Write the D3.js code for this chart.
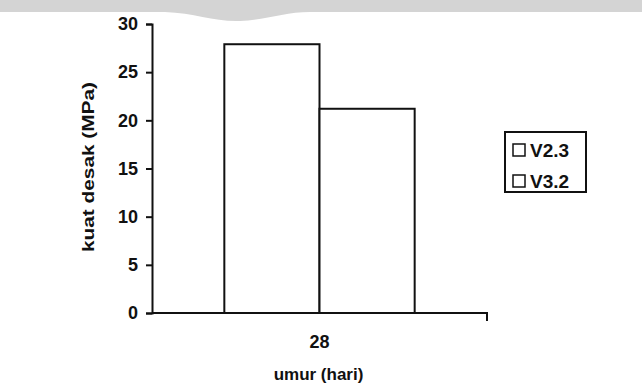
<!DOCTYPE html>
<html>
<head>
<meta charset="utf-8">
<script src="https://cdn.jsdelivr.net/npm/d3@7"></script>
<style>
  body { margin: 0; background: #fff; }
  svg { display: block; }
  text { font-family: "Liberation Sans", Arial, sans-serif; font-weight: bold; fill: #111; }
</style>
</head>
<body>
<div id="chart"></div>
<script>
// data
var categories = ["28"];
var series = ["V2.3", "V3.2"];
var values = [[27.9, 21.2]];   // one row per category, one value per series
var yTicks = [0, 5, 10, 15, 20, 25, 30];

var W = 642, H = 392;
var margin = {top: 24, right: 155, bottom: 79, left: 152};

var svg = d3.select("#chart")
  .append("svg")
    .attr("width", W)
    .attr("height", H);

// faint scan watermark at the top
svg.append("path")
  .attr("d", "M0,0 H642 V12 H310 C285,12 265,20 240,21 C215,22 195,13 165,12 H0 Z")
  .attr("fill", "#d4d4d4");

var g = svg.append("g");

// scales
var y = d3.scaleLinear()
  .domain([0, 30])
  .range([H - margin.bottom, margin.top]);
var x = d3.scaleBand()
  .domain(categories)
  .range([margin.left, W - margin.right]);
var xs = d3.scaleBand()
  .domain(series)
  .range([0, x.bandwidth()])
  .paddingOuter(0.76);

// bars
var groups = g.selectAll(".grp")
  .data(values)
  .enter().append("g")
    .attr("transform", function(d, i) { return "translate(" + x(categories[i]) + ",0)"; });

groups.selectAll("rect")
  .data(function(d) { return d.map(function(v, j) { return {s: series[j], v: v}; }); })
  .enter().append("rect")
    .attr("x", function(d) { return xs(d.s); })
    .attr("y", function(d) { return y(d.v); })
    .attr("width", xs.bandwidth())
    .attr("height", function(d) { return y(0) - y(d.v); })
    .attr("fill", "#fff")
    .attr("stroke", "#111")
    .attr("stroke-width", 2);

// y axis
var yAxis = g.append("g")
  .attr("transform", "translate(" + margin.left + ",0)")
  .call(d3.axisLeft(y).tickValues(yTicks).tickSize(6).tickPadding(8));
yAxis.select(".domain").attr("stroke", "#111").attr("stroke-width", 2);
yAxis.selectAll(".tick line").attr("stroke", "#111").attr("stroke-width", 2);
yAxis.selectAll("text").style("font-size", "18px").attr("fill", "#111");

// x axis
var xAxis = g.append("g")
  .attr("transform", "translate(0," + y(0) + ")")
  .call(d3.axisBottom(x).tickSize(0).tickPadding(22));
xAxis.select(".domain")
  .attr("d", "M" + margin.left + ",0H" + (W - margin.right) + "V8")
  .attr("stroke", "#111").attr("stroke-width", 2);
xAxis.selectAll("text").style("font-size", "18px").attr("fill", "#111");

// axis titles
svg.append("text")
  .attr("x", x(categories[0]) + x.bandwidth() / 2 - 1)
  .attr("y", 380)
  .attr("text-anchor", "middle")
  .style("font-size", "17px")
  .text("umur (hari)");

svg.append("text")
  .attr("transform", "translate(94,167)rotate(-90)")
  .attr("text-anchor", "middle")
  .attr("textLength", 170)
  .attr("lengthAdjust", "spacingAndGlyphs")
  .style("font-size", "17px")
  .text("kuat desak (MPa)");

// legend
var lg = svg.append("g").attr("transform", "translate(505,132)");
lg.append("rect")
  .attr("width", 81).attr("height", 60)
  .attr("fill", "#fff").attr("stroke", "#111").attr("stroke-width", 2);
var items = lg.selectAll(".item")
  .data(series)
  .enter().append("g")
    .attr("transform", function(d, i) { return "translate(8," + (18 + i * 31) + ")"; });
items.append("rect")
  .attr("x", 0).attr("y", -6)
  .attr("width", 12).attr("height", 12)
  .attr("fill", "#fff").attr("stroke", "#111").attr("stroke-width", 1.5);
items.append("text")
  .attr("x", 17).attr("y", 7)
  .style("font-size", "19px")
  .text(function(d) { return d; });
</script>
</body>
</html>
